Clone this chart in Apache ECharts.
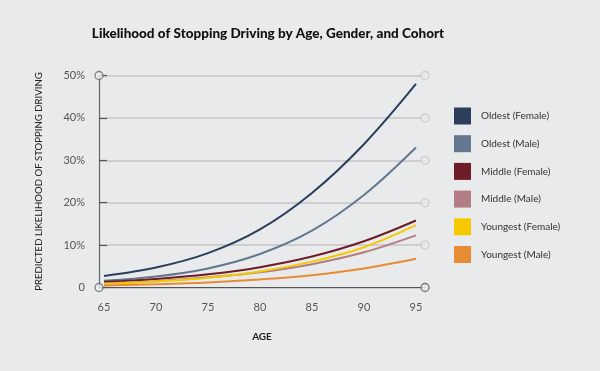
<!DOCTYPE html>
<html><head><meta charset="utf-8">
<script src="https://cdn.jsdelivr.net/npm/echarts@6/dist/echarts.min.js"></script>
<style>html,body{margin:0;padding:0;background:#e9eaec;}#c{width:600px;height:371px;}</style>
</head><body><div id="c"></div>
<script>
var ages = [65, 70, 75, 80, 85, 90, 95];
var seriesNames = ['Oldest (Female)', 'Oldest (Male)', 'Middle (Female)', 'Middle (Male)', 'Youngest (Female)', 'Youngest (Male)'];
var oldestFemale = [2.7, 4.7, 8.1, 13.7, 22.3, 33.8, 48.0];
var oldestMale = [1.6, 2.6, 4.5, 7.9, 13.4, 21.8, 33.0];
var middleFemale = [1.3, 2.0, 3.1, 4.8, 7.3, 10.9, 15.8];
var middleMale = [1.0, 1.5, 2.4, 3.6, 5.5, 8.3, 12.3];
var youngestFemale = [0.85, 1.4, 2.3, 3.8, 6.1, 9.5, 14.7];
var youngestMale = [0.5, 0.78, 1.2, 1.9, 2.9, 4.5, 6.8];
var yTicks = [0, 10, 20, 30, 40, 50];
var colors = ['#2b3e5b', '#64778f', '#6c1d26', '#b27e84', '#f4c900', '#e78c35'];

var allValues = [oldestFemale, oldestMale, middleFemale, middleMale, youngestFemale, youngestMale];
var xMin = 64.52, xMax = 95.87;
var BG = '#e9eaec';
var FONT = 'Lato';

var series = seriesNames.map(function (n, i) {
  return {
    name: n, type: 'line', smooth: 0.35, symbol: 'none',
    data: ages.map(function (a, k) { return [a, allValues[i][k]]; }),
    lineStyle: { color: colors[i], width: 2 },
    itemStyle: { color: colors[i] }, z: 3
  };
});
series.push({
  type: 'scatter', silent: true, symbol: 'circle', symbolSize: 8, z: 5,
  data: yTicks.map(function (t) {
    return { value: [xMax, t], itemStyle: { color: BG, borderColor: t === 0 ? '#555' : '#c4c5c7', borderWidth: 1.3 } };
  }).concat([
    { value: [xMin, 0], itemStyle: { color: BG, borderColor: '#666', borderWidth: 1.3 } },
    { value: [xMin, 50], itemStyle: { color: BG, borderColor: '#666', borderWidth: 1.3 } }
  ]),
  clip: false
});

var chart = echarts.init(document.getElementById('c'));
chart.setOption({
  backgroundColor: BG,
  animation: false,
  color: colors,
  title: {
    text: 'Likelihood of Stopping Driving by Age, Gender, and Cohort',
    left: 263, top: 22, textAlign: 'center',
    textStyle: { fontFamily: FONT, fontWeight: 900, fontSize: 13.5, color: '#111' }
  },
  legend: {
    data: seriesNames, orient: 'vertical', left: 449, top: 102.5,
    icon: 'rect', itemWidth: 17, itemHeight: 17, itemGap: 10.7,
    textStyle: { fontFamily: FONT, fontSize: 10, color: '#333', padding: [0, 0, 0, 5] }
  },
  grid: { left: 99, right: 175, top: 75.5, bottom: 83.5, containLabel: false },
  xAxis: {
    type: 'value', min: xMin, max: xMax,
    name: 'AGE', nameLocation: 'middle', nameGap: 44,
    nameTextStyle: { fontFamily: FONT, fontSize: 10, fontWeight: 'bold', color: '#222' },
    axisLine: { show: true, lineStyle: { color: '#555', width: 1.2 } },
    axisTick: { show: false },
    splitLine: { show: false },
    axisLabel: { customValues: ages, margin: 14, fontFamily: FONT, fontSize: 11, color: '#555', showMinLabel: true, showMaxLabel: true }
  },
  yAxis: {
    type: 'value', min: 0, max: 50, interval: 10,
    name: 'PREDICTED LIKELIHOOD OF STOPPING DRIVING', nameLocation: 'middle', nameGap: 55,
    nameTextStyle: { fontFamily: FONT, fontSize: 9.6, color: '#222' },
    axisLine: { show: true, lineStyle: { color: '#666', width: 1.2 } },
    axisTick: { show: true, inside: true, length: 8, lineStyle: { color: '#555', width: 1.2 } },
    splitLine: { show: true, lineStyle: { color: '#c4c5c7', width: 1.5 } },
    axisLabel: { margin: 14, fontFamily: FONT, fontSize: 11, color: '#555',
      formatter: function (v) { return v === 0 ? '0' : v + '%'; } }
  },
  series: series
});
</script></body></html>
